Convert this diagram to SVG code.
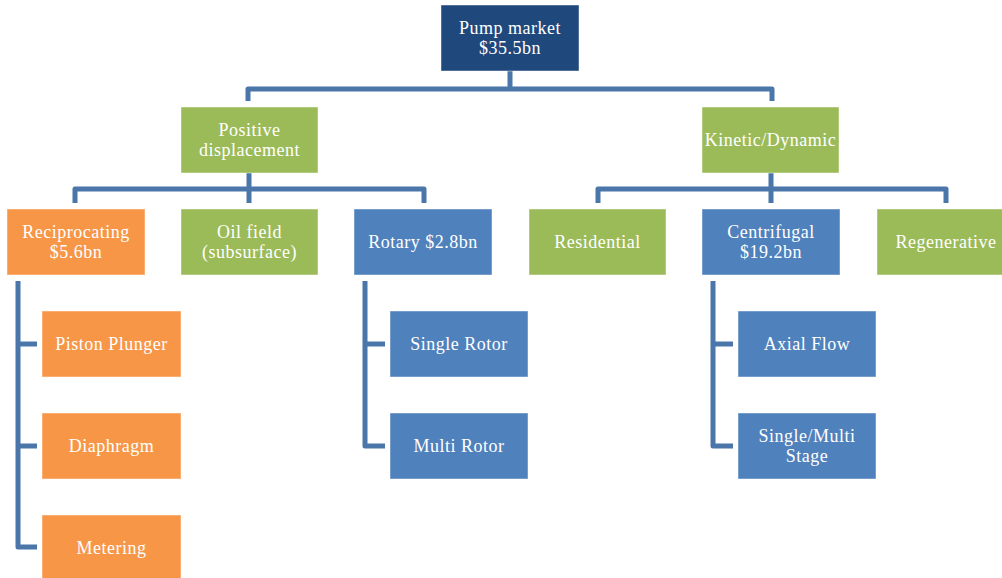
<svg xmlns="http://www.w3.org/2000/svg" width="1002" height="578" viewBox="0 0 1002 578">
  <style>
    .box { stroke: #ffffff; stroke-opacity: 0.45; stroke-width: 1; }
    .navy { fill: #1f497d; }
    .green { fill: #9bbb59; }
    .orange { fill: #f79646; }
    .blue { fill: #4f81bd; }
    .lbl { font-family: "Liberation Serif", "Times New Roman", serif; font-size: 18px; letter-spacing: 0.5px; fill: #ffffff; text-anchor: middle; }
    .conn { fill: none; stroke: #4a76aa; stroke-width: 5; stroke-linejoin: round; }
  </style>
  <rect width="1002" height="578" fill="#ffffff"/>

  <!-- connectors -->
  <g id="connectors" class="conn">
    <path d="M510,71 V89"/>
    <path d="M248,101 V89 H772 V101"/>
    <path d="M249,173 V203"/>
    <path d="M75,203 V189 H424 V203"/>
    <path d="M771,173 V203"/>
    <path d="M598,203 V189 H946 V203"/>
    <path d="M18,281 V547 H37"/>
    <path d="M18,344 H37"/>
    <path d="M18,446 H37"/>
    <path d="M365,281 V446 H385"/>
    <path d="M365,344 H385"/>
    <path d="M713,281 V446 H733"/>
    <path d="M713,344 H733"/>
  </g>

  <!-- level 1 -->
  <g id="pump-market">
    <rect class="box navy" x="441" y="5" width="138" height="66"/>
    <text class="lbl" x="510" y="33.5">Pump market</text>
    <text class="lbl" x="510" y="53.5">$35.5bn</text>
  </g>

  <!-- level 2 -->
  <g id="positive-displacement">
    <rect class="box green" x="181" y="107" width="137" height="66"/>
    <text class="lbl" x="249.5" y="135.5">Positive</text>
    <text class="lbl" x="249.5" y="155.5">displacement</text>
  </g>
  <g id="kinetic-dynamic">
    <rect class="box green" x="702" y="107" width="137" height="66"/>
    <text class="lbl" x="770.5" y="145.5">Kinetic/Dynamic</text>
  </g>

  <!-- level 3 -->
  <g id="reciprocating">
    <rect class="box orange" x="7" y="209" width="138" height="66"/>
    <text class="lbl" x="76" y="237.5">Reciprocating</text>
    <text class="lbl" x="76" y="257.5">$5.6bn</text>
  </g>
  <g id="oil-field">
    <rect class="box green" x="181" y="209" width="137" height="66"/>
    <text class="lbl" x="249.5" y="237.5">Oil field</text>
    <text class="lbl" x="249.5" y="257.5">(subsurface)</text>
  </g>
  <g id="rotary">
    <rect class="box blue" x="354" y="209" width="138" height="66"/>
    <text class="lbl" x="423" y="247.5">Rotary $2.8bn</text>
  </g>
  <g id="residential">
    <rect class="box green" x="529" y="209" width="137" height="66"/>
    <text class="lbl" x="597.5" y="247.5">Residential</text>
  </g>
  <g id="centrifugal">
    <rect class="box blue" x="702" y="209" width="138" height="66"/>
    <text class="lbl" x="771" y="237.5">Centrifugal</text>
    <text class="lbl" x="771" y="257.5">$19.2bn</text>
  </g>
  <g id="regenerative">
    <rect class="box green" x="877" y="209" width="138" height="66"/>
    <text class="lbl" x="946" y="247.5">Regenerative</text>
  </g>

  <!-- reciprocating children -->
  <g id="piston-plunger">
    <rect class="box orange" x="42" y="311" width="139" height="66"/>
    <text class="lbl" x="111.5" y="349.5">Piston Plunger</text>
  </g>
  <g id="diaphragm">
    <rect class="box orange" x="42" y="413" width="139" height="66"/>
    <text class="lbl" x="111.5" y="451.5">Diaphragm</text>
  </g>
  <g id="metering">
    <rect class="box orange" x="42" y="515" width="139" height="66"/>
    <text class="lbl" x="111.5" y="553.5">Metering</text>
  </g>

  <!-- rotary children -->
  <g id="single-rotor">
    <rect class="box blue" x="390" y="311" width="138" height="66"/>
    <text class="lbl" x="459" y="349.5">Single Rotor</text>
  </g>
  <g id="multi-rotor">
    <rect class="box blue" x="390" y="413" width="138" height="66"/>
    <text class="lbl" x="459" y="451.5">Multi Rotor</text>
  </g>

  <!-- centrifugal children -->
  <g id="axial-flow">
    <rect class="box blue" x="738" y="311" width="138" height="66"/>
    <text class="lbl" x="807" y="349.5">Axial Flow</text>
  </g>
  <g id="single-multi-stage">
    <rect class="box blue" x="738" y="413" width="138" height="66"/>
    <text class="lbl" x="807" y="441.5">Single/Multi</text>
    <text class="lbl" x="807" y="461.5">Stage</text>
  </g>
</svg>
